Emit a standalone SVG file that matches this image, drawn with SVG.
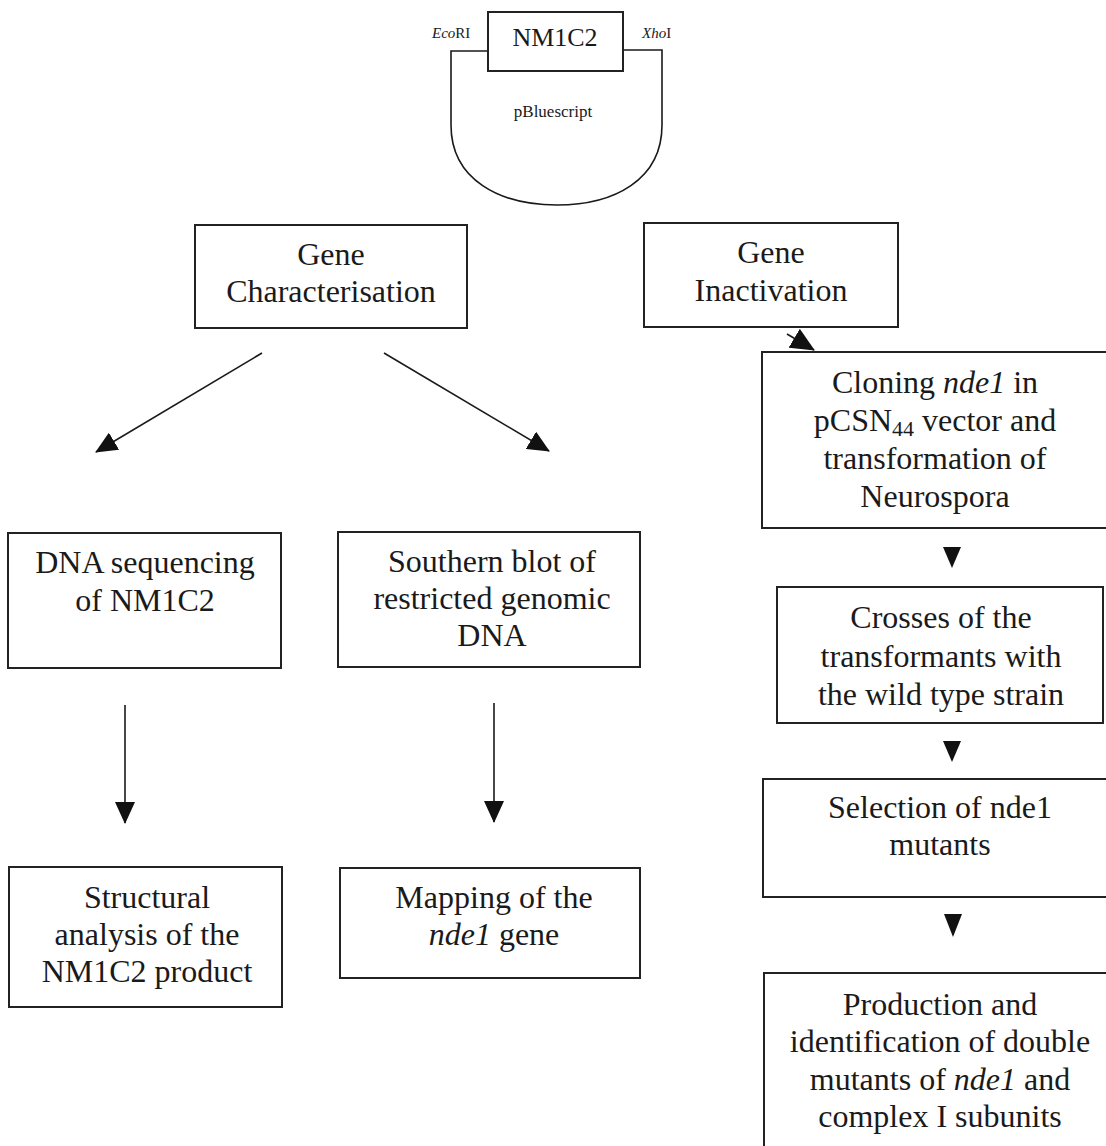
<svg xmlns="http://www.w3.org/2000/svg" width="1106" height="1146" viewBox="0 0 1106 1146">
<style>
.box{fill:#fff;stroke:#222;stroke-width:2}
.t{font-family:"Liberation Serif","Times New Roman",serif;font-size:32px;fill:#1a1a1a;text-anchor:middle}
.s{font-family:"Liberation Serif","Times New Roman",serif;fill:#1a1a1a}
.ln{stroke:#1a1a1a;stroke-width:1.6;fill:none}
.tri{fill:#111}
</style>
<defs>
<marker id="ah" viewBox="0 0 22 20" refX="21" refY="10" markerWidth="22" markerHeight="20" markerUnits="userSpaceOnUse" orient="auto">
<path d="M0,0 L22,10 L0,20 Z" fill="#111"/>
</marker>
<marker id="ahb" viewBox="0 0 24 22" refX="23" refY="11" markerWidth="24" markerHeight="22" markerUnits="userSpaceOnUse" orient="auto">
<path d="M0,0 L24,11 L0,22 Z" fill="#111"/>
</marker>
</defs>

<g id="plasmid">
<path class="ln" d="M488,51 H451 V125 C451,180 500,205 557,205 C614,205 662,180 662,125 V50 H623" stroke-width="2"/>
<rect class="box" x="488" y="12" width="135" height="59"/>
<text class="s" x="555" y="46" font-size="26" text-anchor="middle">NM1C2</text>
<text class="s" x="432" y="38" font-size="15"><tspan font-style="italic">Eco</tspan>RI</text>
<text class="s" x="642" y="38" font-size="15"><tspan font-style="italic">Xho</tspan>I</text>
<text class="s" x="553" y="117" font-size="17" text-anchor="middle">pBluescript</text>
</g>

<g id="gene-characterisation">
<rect class="box" x="195" y="225" width="272" height="103"/>
<text class="t" x="331" y="265">Gene</text>
<text class="t" x="331" y="302">Characterisation</text>
</g>

<g id="gene-inactivation">
<rect class="box" x="644" y="223" width="254" height="104"/>
<text class="t" x="771" y="263">Gene</text>
<text class="t" x="771" y="301">Inactivation</text>
</g>

<g id="dna-sequencing">
<rect class="box" x="8" y="533" width="273" height="135"/>
<text class="t" x="145" y="573">DNA sequencing</text>
<text class="t" x="145" y="611">of NM1C2</text>
</g>

<g id="southern-blot">
<rect class="box" x="338" y="532" width="302" height="135"/>
<text class="t" x="492" y="572">Southern blot of</text>
<text class="t" x="492" y="609">restricted genomic</text>
<text class="t" x="492" y="646">DNA</text>
</g>

<g id="structural-analysis">
<rect class="box" x="9" y="867" width="273" height="140"/>
<text class="t" x="147" y="908">Structural</text>
<text class="t" x="147" y="945">analysis of the</text>
<text class="t" x="147" y="982">NM1C2 product</text>
</g>

<g id="mapping">
<rect class="box" x="340" y="868" width="300" height="110"/>
<text class="t" x="494" y="908">Mapping of the</text>
<text class="t" x="494" y="945"><tspan font-style="italic">nde1</tspan> gene</text>
</g>

<g id="cloning">
<rect class="box" x="762" y="352" width="350" height="176"/>
<text class="t" x="935" y="393">Cloning <tspan font-style="italic">nde1</tspan>  in</text>
<text class="t" x="935" y="431">pCSN<tspan font-size="22" dy="5">44</tspan><tspan dy="-5"> vector and</tspan></text>
<text class="t" x="935" y="469">transformation of</text>
<text class="t" x="935" y="507">Neurospora</text>
</g>

<g id="crosses">
<rect class="box" x="777" y="587" width="326" height="136"/>
<text class="t" x="941" y="628">Crosses of the</text>
<text class="t" x="941" y="667">transformants with</text>
<text class="t" x="941" y="705">the wild type strain</text>
</g>

<g id="selection">
<rect class="box" x="763" y="779" width="350" height="118"/>
<text class="t" x="940" y="818">Selection of nde1</text>
<text class="t" x="940" y="855">mutants</text>
</g>

<g id="production">
<rect class="box" x="764" y="973" width="350" height="190"/>
<text class="t" x="940" y="1015">Production and</text>
<text class="t" x="940" y="1052">identification of double</text>
<text class="t" x="940" y="1090">mutants of <tspan font-style="italic">nde1</tspan> and</text>
<text class="t" x="940" y="1127">complex I subunits</text>
</g>

<g id="connectors">
<line class="ln" x1="262" y1="353" x2="96" y2="452" marker-end="url(#ah)"/>
<line class="ln" x1="384" y1="353" x2="549" y2="451" marker-end="url(#ah)"/>
<line class="ln" x1="125" y1="705" x2="125" y2="823" marker-end="url(#ah)"/>
<line class="ln" x1="494" y1="703" x2="494" y2="822" marker-end="url(#ah)"/>
<line class="ln" x1="787" y1="334" x2="814" y2="350" marker-end="url(#ahb)"/>
<polygon class="tri" points="943,547 961,547 952,568"/>
<polygon class="tri" points="943,741 961,741 952,762"/>
<polygon class="tri" points="944,914 962,914 953,937"/>
</g>
</svg>
